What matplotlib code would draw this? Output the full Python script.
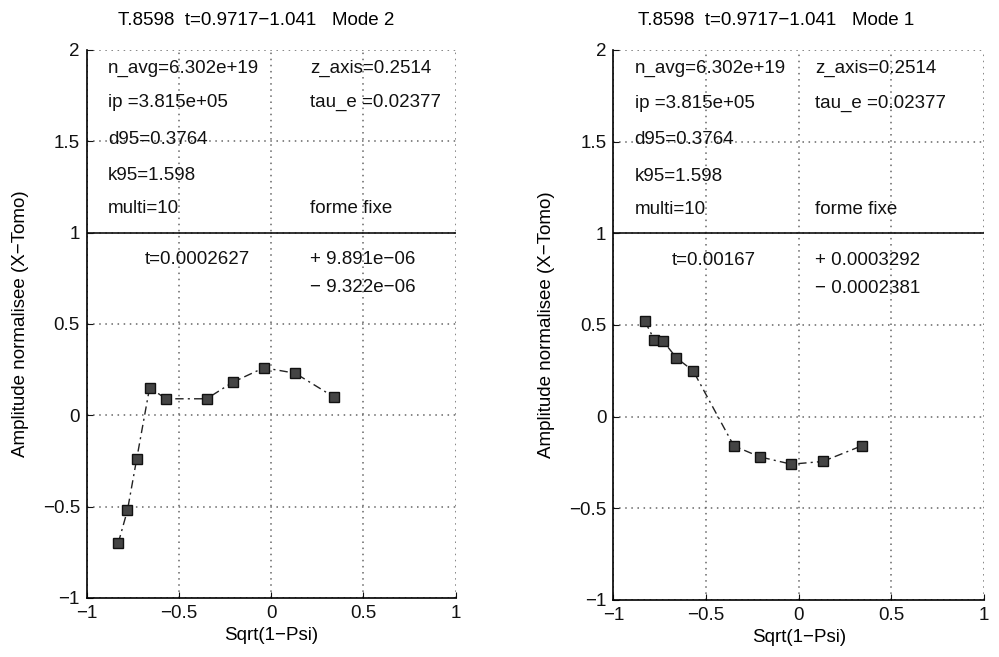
import matplotlib
matplotlib.use('Agg')
import matplotlib.pyplot as plt
import numpy as np
# === Normalised X-tomography amplitude profiles for modes 2 and 1. === |
plt.rcParams['font.family'] = ['Liberation Sans', 'DejaVu Sans']
# --- Data.
x_psi = [-0.83, -0.78, -0.73, -0.66, -0.57, -0.35, -0.21, -0.04, 0.13, 0.34]
mode2 = [-0.70, -0.52, -0.24, 0.15, 0.09, 0.09, 0.18, 0.26, 0.23, 0.10]
mode1 = [0.52, 0.42, 0.41, 0.32, 0.25, -0.16, -0.22, -0.26, -0.245, -0.16]
titles = ["T.8598  t=0.9717\u22121.041   Mode 2", "T.8598  t=0.9717\u22121.041   Mode 1"]
infos_left = ["n_avg=6.302e+19", "ip =3.815e+05", "d95=0.3764", "k95=1.598", "multi=10"]
infos_right = ["z_axis=0.2514", "tau_e =0.02377", "", "", "forme fixe"]
fit_t = ["t=0.0002627", "t=0.00167"]
fit_plus = ["+ 9.891e\u221206", "+ 0.0003292"]
fit_minus = ["\u2212 9.322e\u221206", "\u2212 0.0002381"]
ticks_x = [-1, -0.5, 0, 0.5, 1]
ticks_y = [-1, -0.5, 0, 0.5, 1, 1.5, 2]
# --- Layout.
fig = plt.figure(figsize=(9.99, 6.57), dpi=100)
axes_pos = [[0.087, 0.090, 0.369, 0.834], [0.614, 0.087, 0.371, 0.837]]
title_x = [0.46, 0.44]
col2_x = [0.21, 0.09]
info_y = [1.90, 1.71, 1.51, 1.31, 1.13]
fs = 13.5
for k, yy in enumerate([mode2, mode1]):
  ax = fig.add_axes(axes_pos[k])
  ax.plot(x_psi, yy, color='#222222', linestyle=(0, (6, 3, 1.5, 3)), linewidth=1.0,
          marker='s', markersize=7, markerfacecolor='#444444',
          markeredgecolor='#111111', markeredgewidth=1.0, zorder=3)
  ax.axhline(1, color='#111111', linewidth=1.2)
  ax.set_xlim(-1, 1)
  ax.set_ylim(-1, 2)
  ax.set_xticks(ticks_x)
  ax.set_yticks(ticks_y)
  ax.set_xticklabels(['\u22121', '\u22120.5', '0', '0.5', '1'])
  ax.set_yticklabels(['\u22121', '\u22120.5', '0', '0.5', '1', '1.5', '2'])
  ax.tick_params(direction='in', length=4, labelsize=fs, colors='#111111', pad=5)
  ax.spines['top'].set_visible(False)
  ax.spines['right'].set_visible(False)
  ax.spines['left'].set_linewidth(1.2)
  ax.spines['bottom'].set_linewidth(1.2)
  ax.grid(True, linestyle=(0, (1, 3)), color='#666666', linewidth=1.1)
  ax.set_title(titles[k], fontsize=fs, pad=18, x=title_x[k])
  ax.set_xlabel("Sqrt(1\u2212Psi)", fontsize=fs, labelpad=4)
  ax.set_ylabel("Amplitude normalisee (X\u2212Tomo)", fontsize=fs, labelpad=10)
  for i in range(len(infos_left)):
    ax.text(-0.885, info_y[i], infos_left[i], fontsize=fs, va='center', color='#111111')
    ax.text(col2_x[k], info_y[i], infos_right[i], fontsize=fs, va='center', color='#111111')
  ax.text(-0.685, 0.85, fit_t[k], fontsize=fs, va='center', color='#111111')
  ax.text(col2_x[k], 0.85, fit_plus[k], fontsize=fs, va='center', color='#111111')
  ax.text(col2_x[k], 0.70, fit_minus[k], fontsize=fs, va='center', color='#111111')
fig.savefig("out.png", dpi=100)
print("Done")
